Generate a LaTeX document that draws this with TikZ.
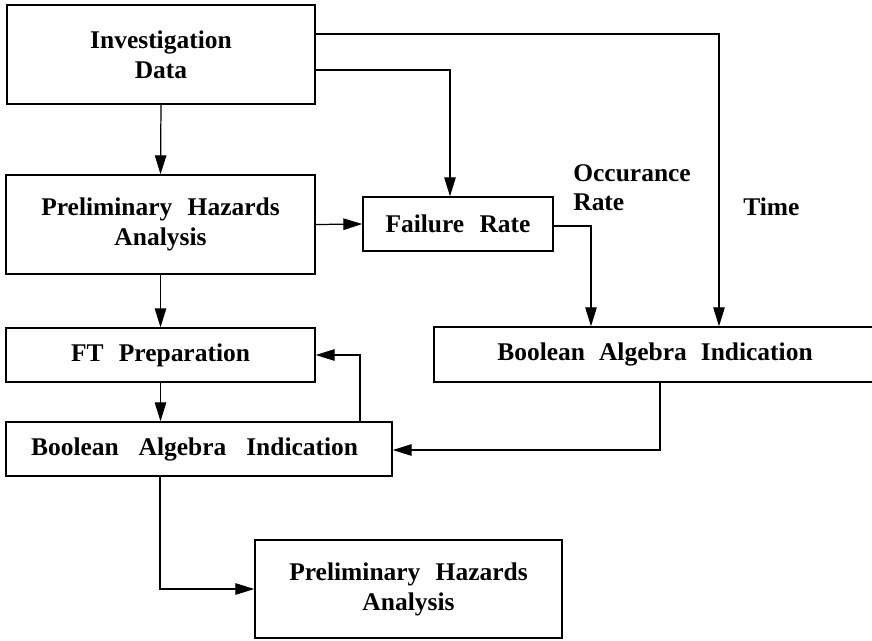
\documentclass[tikz,border=0pt]{standalone}
\usepackage{fontspec}
\setmainfont{Liberation Serif}
\usetikzlibrary{arrows.meta}
\tikzstyle{canvas} = [x = 0.02cm, y = -0.02cm]
\tikzstyle{flowBox} = [draw, line width = 0.8pt, inner sep = 0pt, align = center, font = \fontsize{14.5}{17}\selectfont\bfseries, execute at begin node = {\spaceskip = .6em\relax}]
\tikzstyle{flowLine} = [line width = 0.7pt, -{Triangle[length = 3.8mm, width = 2.3mm]}]
\tikzstyle{flowLabel} = [inner sep = 0pt, align = left, font = \fontsize{14.5}{16.5}\selectfont\bfseries]
\newcommand{\placeBox}[7]{\node [flowBox, #7, minimum width = (#4 - #2) * 0.02cm, minimum height = (#5 - #3) * 0.02cm] (#1) at ({(#2 + #4) / 2}, {(#3 + #5) / 2}) {#6};}

\begin{document}
\begin{tikzpicture}[canvas]
        \useasboundingbox (0, 0) rectangle (872, 640);

        \placeBox{investigationData}{7}{5}{315}{104}{Investigation\\Data}{}
        \placeBox{hazardsTop}{6}{175}{315}{274}{Preliminary Hazards\\Analysis}{}
        \placeBox{failureRate}{363}{197}{553}{251}{Failure Rate}{}
        \placeBox{ftPreparation}{6}{328}{315}{382}{FT Preparation}{}
        \placeBox{booleanRight}{434}{327}{876}{382}{Boolean Algebra Indication}{execute at begin node = {\spaceskip = .55em\relax}}
        \placeBox{booleanLeft}{6}{422}{392}{476}{\hspace{-5pt}Boolean Algebra Indication}{execute at begin node = {\spaceskip = .78em\relax}}
        \placeBox{hazardsBottom}{255}{540}{562}{638}{Preliminary Hazards\\Analysis}{}

        \node [flowLabel, anchor = north west] (occuranceLabel) at (573, 164) {Occurance\\Rate};
        \node [flowLabel, anchor = west] (timeLabel) at (743, 207) {Time};

        \coordinate (timeCorner) at (719, 34);
        \coordinate (dataCorner) at (450, 70);
        \coordinate (rateCorner) at (591, 226);
        \coordinate (feedbackCorner) at (360, 355);
        \coordinate (mergeCorner) at (660, 450);
        \coordinate (outputCorner) at (160, 589);

        \draw [flowLine] (investigationData.east |- timeCorner) -- (timeCorner) -- (timeCorner |- booleanRight.north);
        \draw [flowLine] (investigationData.east |- dataCorner) -- (dataCorner) -- (dataCorner |- failureRate.north);
        \draw [flowLine] (investigationData.south) -- (hazardsTop.north);
        \draw [flowLine] (hazardsTop.east) -- (failureRate.west);
        \draw [flowLine] (failureRate.east |- rateCorner) -- (rateCorner) -- (rateCorner |- booleanRight.north);
        \draw [flowLine] (hazardsTop.south) -- (ftPreparation.north);
        \draw [flowLine] (ftPreparation.south) -- (booleanLeft.north -| ftPreparation.south);
        \draw [flowLine] (feedbackCorner |- booleanLeft.north) -- (feedbackCorner) -- (ftPreparation.east);
        \draw [flowLine] (mergeCorner |- booleanRight.south) -- (mergeCorner) -- (booleanLeft.east |- mergeCorner);
        \draw [flowLine] (outputCorner |- booleanLeft.south) -- (outputCorner) -- (hazardsBottom.west);
      \end{tikzpicture}
\end{document}
